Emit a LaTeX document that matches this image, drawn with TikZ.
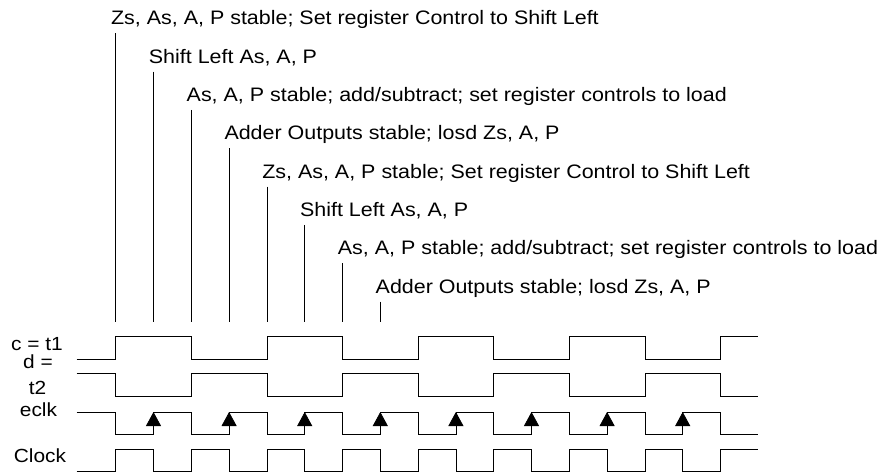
\documentclass[tikz,border=0pt]{standalone}
\usepackage{fontspec}
\usepackage{tikz}
\usetikzlibrary{arrows.meta}
\newfontfamily\wavefont{Liberation Sans}[FakeStretch=1.1]

\begin{document}
\begin{tikzpicture}[x=1pt, y=1pt, line width=0.8pt,
    note/.style={font=\wavefont\fontsize{19.5}{22}\selectfont, inner sep=0pt, anchor=base west, text depth=8pt},
    sig/.style={font=\wavefont\fontsize{19}{22}\selectfont, inner sep=0pt, anchor=base},
    edgetip/.style={-{Triangle[width=15pt, length=14pt]}}]
    \useasboundingbox (0,0) rectangle (889,472);

    % bottom ends of the marker lines
    \coordinate (b1) at (115.7,150);
    \coordinate (b2) at (153.5,150);
    \coordinate (b3) at (191.3,150);
    \coordinate (b4) at (229.1,150);
    \coordinate (b5) at (266.9,150);
    \coordinate (b6) at (304.7,150);
    \coordinate (b7) at (342.5,150);
    \coordinate (b8) at (380.3,150);

    \node[note] (n1) at (110.7,447) {Zs, As, A, P stable; Set register Control to Shift Left};
    \node[note] (n2) at (148.5,408.7) {Shift Left As, A, P};
    \node[note] (n3) at (186.3,370.4) {As, A, P stable; add/subtract; set register controls to load};
    \node[note] (n4) at (224.1,332.1) {Adder Outputs stable; losd Zs, A, P};
    \node[note] (n5) at (261.9,293.8) {Zs, As, A, P stable; Set register Control to Shift Left};
    \node[note] (n6) at (299.7,255.5) {Shift Left As, A, P};
    \node[note] (n7) at (337.5,217.2) {As, A, P stable; add/subtract; set register controls to load};
    \node[note] (n8) at (375.3,178.9) {Adder Outputs stable; losd Zs, A, P};

    \draw (n1.south -| b1) -- (b1);
    \draw (n2.south -| b2) -- (b2);
    \draw (n3.south -| b3) -- (b3);
    \draw (n4.south -| b4) -- (b4);
    \draw (n5.south -| b5) -- (b5);
    \draw (n6.south -| b6) -- (b6);
    \draw (n7.south -| b7) -- (b7);
    \draw (n8.south -| b8) -- (b8);

    % signal names
    \node[sig] (ct1) at (37,122) {c = t1};
    \node[sig] (dl) at (38,103.5) {d =};
    \node[sig] (t2) at (37.5,78) {t2};
    \node[sig] (eclk) at (38.5,56) {eclk};
    \node[sig] (clk) at (40,9.3) {Clock};

    % waveforms
    \draw (76.7,113) -- (115.7,113) \foreach \i in {1,...,4} { -- ++(0,22.3) -- ++(75.6,0) -- ++(0,-22.3) -- ++(75.6,0) } -- ++(0,22.3) -- (758.3,135.3);
    \draw (76.7,98.7) -- (115.7,98.7) \foreach \i in {1,...,4} { -- ++(0,-22.7) -- ++(75.6,0) -- ++(0,22.7) -- ++(75.6,0) } -- ++(0,-22.7) -- (758.3,76);
    \draw (76.7,60) -- (115.7,60) \foreach \i in {1,...,8} { -- ++(0,-22.3) -- ++(37.8,0) -- ++(0,22.3) -- ++(37.8,0) } -- ++(0,-22.3) -- (758.3,37.7);
    \draw (76.7,0.6) -- (115.7,0.6) \foreach \i in {1,...,8} { -- ++(0,21.7) -- ++(37.8,0) -- ++(0,-21.7) -- ++(37.8,0) } -- ++(0,21.7) -- (758.3,22.3);

    \foreach \x in {153.5,229.1,304.7,380.3,455.9,531.5,607.1,682.7}
        \draw[edgetip] (\x,37.7) -- (\x,60);
\end{tikzpicture}
\end{document}
